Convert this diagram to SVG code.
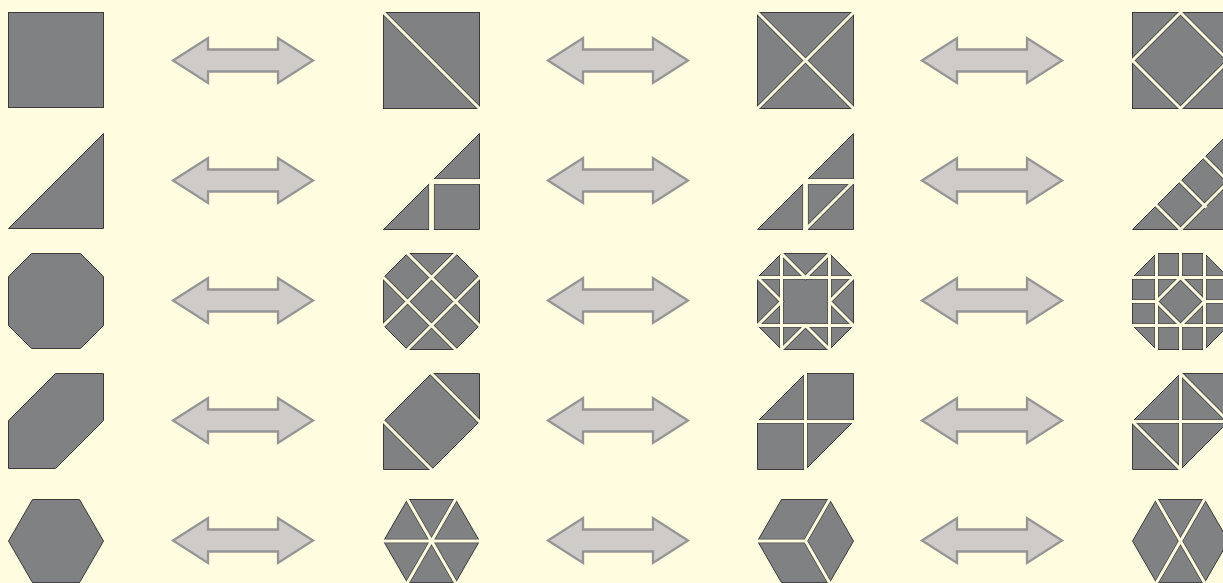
<svg xmlns="http://www.w3.org/2000/svg" width="1223" height="583" viewBox="0 0 1223 583">
<style>
.sh{fill:#808183;stroke:#3a3a3a;stroke-width:1}
.cu{fill:none;stroke:#4e4e4e;stroke-width:4.6}
.ct{fill:none;stroke:#fffcdf;stroke-width:3;stroke-linejoin:miter}
.cuw{fill:none;stroke:#4e4e4e;stroke-width:6.4}
.ctw{fill:none;stroke:#fffcdf;stroke-width:4.8}
.ar{fill:#cecbc8;stroke:#959595;stroke-width:2.3}
</style>
<defs>
<clipPath id="cSq" clipPathUnits="userSpaceOnUse"><rect x="0" y="0" width="96" height="96"/></clipPath>
<clipPath id="cTr" clipPathUnits="userSpaceOnUse"><polygon points="0,96 96,0 96,96"/></clipPath>
<clipPath id="cOc" clipPathUnits="userSpaceOnUse"><polygon points="24,0 72,0 96,24 96,72 72,96 24,96 0,72 0,24"/></clipPath>
<clipPath id="cHa" clipPathUnits="userSpaceOnUse"><polygon points="48,0 96,0 96,48 48,96 0,96 0,48"/></clipPath>
<clipPath id="cHx" clipPathUnits="userSpaceOnUse"><polygon points="24,0 72,0 96,41.57 72,83.14 24,83.14 0,41.57"/></clipPath>
<path id="arrow" d="M0,0 L35,-22.5 L35,-11 L105,-11 L105,-22.5 L140,0 L105,22.5 L105,11 L35,11 L35,22.5 Z"/>
</defs>
<rect x="0" y="0" width="1223" height="583" fill="#fffcdf"/>

<!-- Row 1: square -->
<g id="r1c1" transform="translate(8.5,12.5)">
<rect class="sh" x="0" y="0" width="95" height="95"/>
</g>
<g id="r1c2" transform="translate(383.5,12.5)">
<rect class="sh" x="0" y="0" width="96" height="96"/>
<path class="cu" clip-path="url(#cSq)" d="M0,0 L96,96"/>
<path class="ct" d="M-2,-2 L98,98"/>
</g>
<g id="r1c3" transform="translate(757.5,12.5)">
<rect class="sh" x="0" y="0" width="96" height="96"/>
<path class="cu" clip-path="url(#cSq)" d="M0,0 L96,96 M96,0 L0,96"/>
<path class="ct" d="M-2,-2 L98,98 M98,-2 L-2,98"/>
</g>
<g id="r1c4" transform="translate(1132.5,12.5)">
<rect class="sh" x="0" y="0" width="96" height="96"/>
<path class="cu" clip-path="url(#cSq)" d="M48,0 L96,48 L48,96 L0,48 Z"/>
<path class="ct" d="M48,0 L96,48 L48,96 L0,48 Z"/>
</g>

<!-- Row 2: right triangle -->
<g id="r2c1" transform="translate(8.5,133.5)">
<polygon class="sh" points="0,95 95,0 95,95"/>
</g>
<g id="r2c2" transform="translate(383.5,133.5)">
<polygon class="sh" points="0,96 96,0 96,96"/>
<path class="cuw" clip-path="url(#cTr)" d="M44,48 L100,48 M48,44 L48,100"/>
<path class="ctw" d="M46,48 L99,48 M48,46 L48,99"/>
</g>
<g id="r2c3" transform="translate(757.5,133.5)">
<polygon class="sh" points="0,96 96,0 96,96"/>
<path class="cuw" clip-path="url(#cTr)" d="M44,48 L100,48 M48,44 L48,100"/>
<path class="cu" clip-path="url(#cTr)" d="M46,98 L98,46"/>
<path class="ctw" d="M46,48 L99,48 M48,46 L48,99"/>
<path class="ct" d="M46,98 L98,46"/>
</g>
<g id="r2c4" transform="translate(1132.5,133.5)">
<polygon class="sh" points="0,96 96,0 96,96"/>
<path class="cu" clip-path="url(#cTr)" d="M22,70 L50,98 M46,46 L74,74 M70,22 L98,50 M46,98 L98,46"/>
<path class="ct" d="M22,70 L50,98 M46,46 L74,74 M70,22 L98,50 M46,98 L98,46"/>
</g>

<!-- Row 3: octagon -->
<g id="r3c1" transform="translate(8.5,253.5)">
<polygon class="sh" points="23,0 72,0 95,23 95,72 72,95 23,95 0,72 0,23"/>
</g>
<g id="r3c2" transform="translate(383.5,253.5)">
<polygon class="sh" points="24,0 72,0 96,24 96,72 72,96 24,96 0,72 0,24"/>
<path class="cu" clip-path="url(#cOc)" d="M74,-2 L-2,74 M98,22 L22,98 M22,-2 L98,74 M-2,22 L74,98"/>
<path class="ct" d="M74,-2 L-2,74 M98,22 L22,98 M22,-2 L98,74 M-2,22 L74,98"/>
</g>
<g id="r3c3" transform="translate(757.5,253.5)">
<polygon class="sh" points="24,0 72,0 96,24 96,72 72,96 24,96 0,72 0,24"/>
<path class="cu" clip-path="url(#cOc)" d="M24,-2 L24,98 M72,-2 L72,98 M-2,24 L98,24 M-2,72 L98,72 M22,-2 L48,24 L74,-2 M22,98 L48,72 L74,98 M-2,22 L24,48 L-2,74 M98,22 L72,48 L98,74"/>
<path class="ct" d="M24,-2 L24,98 M72,-2 L72,98 M-2,24 L98,24 M-2,72 L98,72 M22,-2 L48,24 L74,-2 M22,98 L48,72 L74,98 M-2,22 L24,48 L-2,74 M98,22 L72,48 L98,74"/>
</g>
<g id="r3c4" transform="translate(1132.5,253.5)">
<polygon class="sh" points="24,0 72,0 96,24 96,72 72,96 24,96 0,72 0,24"/>
<path class="cu" clip-path="url(#cOc)" d="M24,-2 L24,98 M72,-2 L72,98 M-2,24 L98,24 M-2,72 L98,72 M48,-2 L48,24 M48,72 L48,98 M-2,48 L24,48 M72,48 L98,48 M48,24 L72,48 L48,72 L24,48 Z"/>
<path class="ct" d="M24,-2 L24,98 M72,-2 L72,98 M-2,24 L98,24 M-2,72 L98,72 M48,-2 L48,24 M48,72 L48,98 M-2,48 L24,48 M72,48 L98,48 M48,24 L72,48 L48,72 L24,48 Z"/>
</g>

<!-- Row 4: cut square hexagon -->
<g id="r4c1" transform="translate(8.5,373.5)">
<polygon class="sh" points="47,0 95,0 95,47 47,95 0,95 0,47"/>
</g>
<g id="r4c2" transform="translate(383.5,373.5)">
<polygon class="sh" points="48,0 96,0 96,48 48,96 0,96 0,48"/>
<path class="cu" clip-path="url(#cHa)" d="M46,-2 L98,50 M-2,46 L50,98"/>
<path class="ct" d="M46,-2 L98,50 M-2,46 L50,98"/>
</g>
<g id="r4c3" transform="translate(757.5,373.5)">
<polygon class="sh" points="48,0 96,0 96,48 48,96 0,96 0,48"/>
<path class="cu" clip-path="url(#cHa)" d="M48,-2 L48,98 M-2,48 L98,48"/>
<path class="ct" d="M48,-2 L48,98 M-2,48 L98,48"/>
</g>
<g id="r4c4" transform="translate(1132.5,373.5)">
<polygon class="sh" points="48,0 96,0 96,48 48,96 0,96 0,48"/>
<path class="cu" clip-path="url(#cHa)" d="M48,-2 L48,98 M-2,48 L98,48 M46,-2 L98,50 M-2,46 L50,98"/>
<path class="ct" d="M48,-2 L48,98 M-2,48 L98,48 M46,-2 L98,50 M-2,46 L50,98"/>
</g>

<!-- Row 5: regular hexagon -->
<g id="r5c1" transform="translate(8.5,499.5)">
<polygon class="sh" points="24,0 71,0 95,41.57 71,83.14 24,83.14 0,41.57"/>
</g>
<g id="r5c2" transform="translate(383.5,499.5)">
<polygon class="sh" points="24,0 72,0 96,41.57 72,83.14 24,83.14 0,41.57"/>
<path class="cu" clip-path="url(#cHx)" d="M-2,41.57 L98,41.57 M23,-1.73 L73,84.87 M73,-1.73 L23,84.87"/>
<path class="ct" d="M-2,41.57 L98,41.57 M23,-1.73 L73,84.87 M73,-1.73 L23,84.87"/>
</g>
<g id="r5c3" transform="translate(757.5,499.5)">
<polygon class="sh" points="24,0 72,0 96,41.57 72,83.14 24,83.14 0,41.57"/>
<path class="cu" clip-path="url(#cHx)" d="M-2,41.57 L48,41.57 M73,-1.73 L48,41.57 L73,84.87"/>
<path class="ct" d="M-2,41.57 L48,41.57 M73,-1.73 L48,41.57 L73,84.87"/>
</g>
<g id="r5c4" transform="translate(1132.5,499.5)">
<polygon class="sh" points="24,0 72,0 96,41.57 72,83.14 24,83.14 0,41.57"/>
<path class="cu" clip-path="url(#cHx)" d="M23,-1.73 L73,84.87 M73,-1.73 L23,84.87"/>
<path class="ct" d="M23,-1.73 L73,84.87 M73,-1.73 L23,84.87"/>
</g>

<!-- Connectors: double block arrows -->
<g id="connectors">
<use class="ar" href="#arrow" transform="translate(173,60.5)"/>
<use class="ar" href="#arrow" transform="translate(548,60.5)"/>
<use class="ar" href="#arrow" transform="translate(922,60.5)"/>
<use class="ar" href="#arrow" transform="translate(173,180.5)"/>
<use class="ar" href="#arrow" transform="translate(548,180.5)"/>
<use class="ar" href="#arrow" transform="translate(922,180.5)"/>
<use class="ar" href="#arrow" transform="translate(173,300.5)"/>
<use class="ar" href="#arrow" transform="translate(548,300.5)"/>
<use class="ar" href="#arrow" transform="translate(922,300.5)"/>
<use class="ar" href="#arrow" transform="translate(173,420.5)"/>
<use class="ar" href="#arrow" transform="translate(548,420.5)"/>
<use class="ar" href="#arrow" transform="translate(922,420.5)"/>
<use class="ar" href="#arrow" transform="translate(173,540.5)"/>
<use class="ar" href="#arrow" transform="translate(548,540.5)"/>
<use class="ar" href="#arrow" transform="translate(922,540.5)"/>
</g>
</svg>
